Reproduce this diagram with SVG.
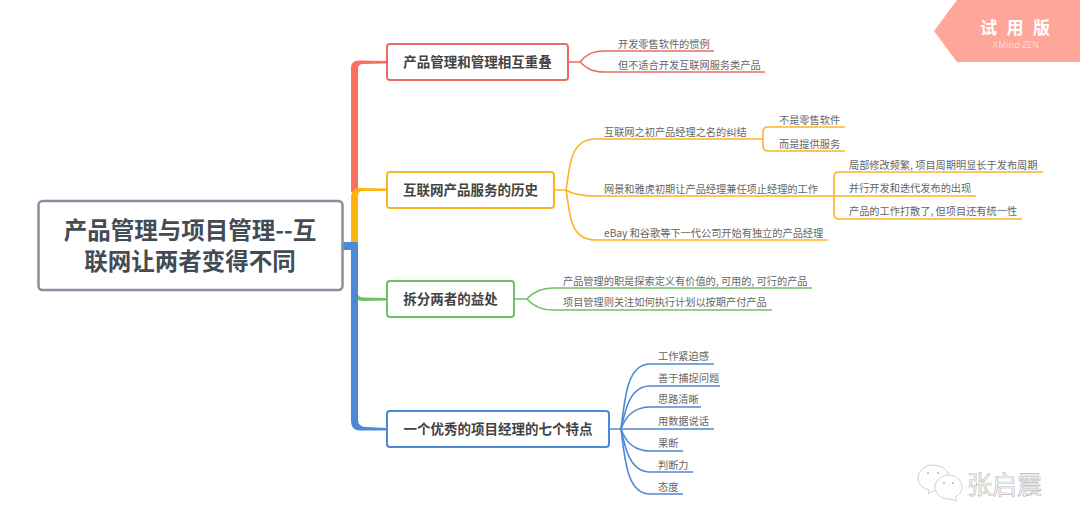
<svg xmlns="http://www.w3.org/2000/svg" width="1080" height="532" viewBox="0 0 1080 532">
<style>
text{font-family:"Noto Sans CJK SC","Liberation Sans",sans-serif}
.c{font-size:23.5px;font-weight:700;fill:#434b55;text-anchor:middle}
.t{font-size:13.5px;font-weight:700;fill:#434343;text-anchor:middle}
.s{font-size:10.2px;fill:#666}
.box{fill:#fff;stroke-width:2}
.l{fill:none;stroke-width:1.6}
.r{stroke:#ea6b62}.o{stroke:#fbb424}.g{stroke:#6fc263}.b{stroke:#4d89d6}
</style>
<rect width="1080" height="532" fill="#fff"/>
<g id="connectors">
<path d="M351 192V68Q351 60.500 359 60.500L387 61V63.500L363 64Q358 64 358 69V192Z" fill="#fc6f5c"/>
<path d="M351 245V197Q351 188 360 188L387 188.500V191L363 191Q358 191 358 196V245Z" fill="#ffb30f"/>
<path d="M357 292Q358 297 363 297.500L387 298V300.500L362 301Q355 301 353 294Z" fill="#6fc263"/>
<path d="M343 242H358V420Q358 426.500 366 427L387 428V430.500L360 430.500Q351 430.500 351 421V250H343Z" fill="#4d89d6"/>
<g class="l r">
<path d="M568 62H580C586 55 592 51 604 51H714"/>
<path d="M580 62C586 68 592 72 604 72H765"/>
</g>
<g class="l o">
<path d="M554 190H566C570 170 568 139 596 139H763"/>
<path d="M566 190C572 194 580 196 596 196H834"/>
<path d="M566 190C570 210 568 240 596 240H828"/>
<path d="M763 139V132Q763 127 768 127H845"/>
<path d="M763 139V146Q763 151 768 151H845"/>
<path d="M834 196V177Q834 172 839 172H1043"/>
<path d="M834 196H976"/>
<path d="M834 196V214Q834 219 839 219H1022"/>
</g>
<g class="l g">
<path d="M514 299H527C533 292 540 288 553 288H812"/>
<path d="M527 299C533 306 540 310 553 310H772"/>
</g>
<g class="l b">
<path d="M609 429H621C625 395 628 364 650 364H714"/>
<path d="M621 429C625 410 630 386 650 386H720"/>
<path d="M621 429C625 418 632 407 650 407H701"/>
<path d="M621 429H714"/>
<path d="M621 429C625 440 632 451 650 451H683"/>
<path d="M621 429C625 448 630 472 650 472H693"/>
<path d="M621 429C625 463 628 494 650 494H683"/>
</g>
</g>
<g id="central">
<rect x="38.500" y="201" width="304" height="89" rx="4" fill="#fff" stroke="#8590a0" stroke-width="2.500"/>
<text class="c" x="190" y="239">产品管理与项目管理--互</text>
<text class="c" x="190" y="270">联网让两者变得不同</text>
</g>
<g id="topic1"><rect class="box r" x="387" y="44" width="181" height="36" rx="3"/><text class="t" x="477.500" y="67">产品管理和管理相互重叠</text></g>
<g id="topic2"><rect class="box o" x="387" y="172" width="167" height="36" rx="3"/><text class="t" x="470.500" y="195">互联网产品服务的历史</text></g>
<g id="topic3"><rect class="box g" x="387" y="281" width="127" height="36" rx="3"/><text class="t" x="450.500" y="304">拆分两者的益处</text></g>
<g id="topic4"><rect class="box b" x="387" y="411" width="222" height="36" rx="3"/><text class="t" x="498" y="434">一个优秀的项目经理的七个特点</text></g>
<g id="sub1"><text class="s" x="618" y="47.500">开发零售软件的惯例</text></g>
<g id="sub2"><text class="s" x="618" y="68.500">但不适合开发互联网服务类产品</text></g>
<g id="sub3"><text class="s" x="604" y="135.500">互联网之初产品经理之名的纠结</text></g>
<g id="sub4"><text class="s" x="779" y="123.500">不是零售软件</text></g>
<g id="sub5"><text class="s" x="779" y="147.500">而是提供服务</text></g>
<g id="sub6"><text class="s" x="604" y="192.500">网景和雅虎初期让产品经理兼任项止经理的工作</text></g>
<g id="sub7"><text class="s" x="849" y="168.500">局部修改频繁, 项目周期明显长于发布周期</text></g>
<g id="sub8"><text class="s" x="849" y="191.500">并行开发和迭代发布的出现</text></g>
<g id="sub9"><text class="s" x="849" y="215">产品的工作打散了, 但项目还有统一性</text></g>
<g id="sub10"><text class="s" x="604" y="236.500">eBay 和谷歌等下一代公司开始有独立的产品经理</text></g>
<g id="sub11"><text class="s" x="563" y="284.500">产品管理的职是探索定义有价值的, 可用的, 可行的产品</text></g>
<g id="sub12"><text class="s" x="563" y="306">项目管理则关注如何执行计划以按期产付产品</text></g>
<g id="sub13"><text class="s" x="658" y="360">工作紧迫感</text></g>
<g id="sub14"><text class="s" x="658" y="381.500">善于捕捉问题</text></g>
<g id="sub15"><text class="s" x="658" y="403">思路清晰</text></g>
<g id="sub16"><text class="s" x="658" y="425">用数据说话</text></g>
<g id="sub17"><text class="s" x="658" y="446.500">果断</text></g>
<g id="sub18"><text class="s" x="658" y="468.500">判断力</text></g>
<g id="sub19"><text class="s" x="658" y="490.500">态度</text></g>
<g id="badge">
<polygon points="957,0 1080,0 1080,62 957,62 934,31" fill="#ffa69b"/>
<text x="980" y="34" fill="#fff" font-size="17" font-weight="700" letter-spacing="9.500">试用版</text>
<text x="1016" y="47.500" text-anchor="middle" fill="#ffd9d3" font-size="9" style="font-family:'Noto Sans',sans-serif">XMind·ZEN</text>
</g>
<g id="watermark" fill="#fff" stroke="#cfcfcf" stroke-width="1">
<path d="M933 465C942 465 949 471 949 478C949 485 942 491 933 491L928 494L929 490C922 488 918 484 918 478C918 471 925 465 933 465Z"/>
<path d="M949 475C956 475 962 481 962 487C962 492 959 495 955 497L957 501L951 499C942 500 935 494 935 487C935 481 941 475 949 475Z"/>
<g fill="#b5b5b5" stroke="none"><circle cx="928" cy="473" r="1"/><circle cx="938" cy="473" r="1"/><circle cx="944" cy="483" r="1"/><circle cx="953" cy="483" r="1"/></g>
<text x="967" y="494" font-size="25" fill="#fff" stroke="#bbb" stroke-width=".7">张启震</text>
</g>
</svg>
